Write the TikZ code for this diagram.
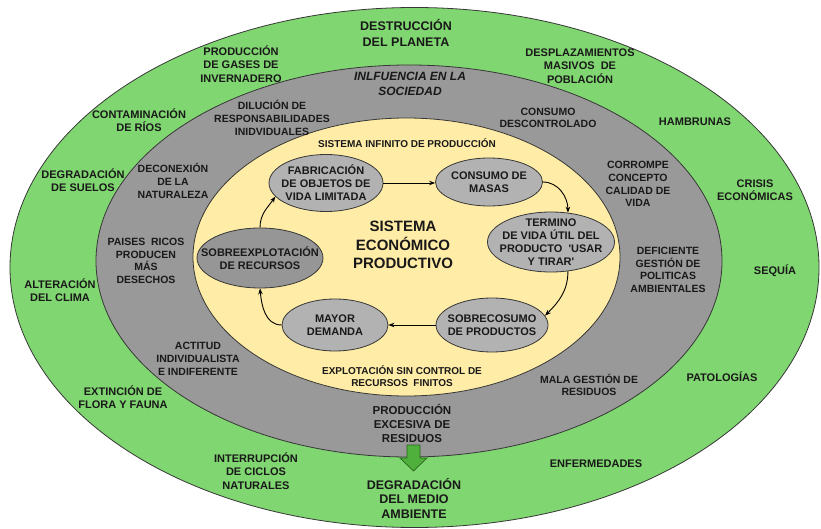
\documentclass[tikz,border=0pt]{standalone}
\usepackage{fontspec}
\newfontfamily\lsans{Liberation Sans}
\usetikzlibrary{shapes.geometric,arrows.meta}
\definecolor{ringgreen}{RGB}{128,214,112}
\definecolor{ringgray}{RGB}{153,153,153}
\definecolor{ringyellow}{RGB}{255,236,166}
\definecolor{boxgray}{RGB}{178,178,178}
\definecolor{boxdark}{RGB}{150,150,150}
\definecolor{edgec}{RGB}{55,55,55}
\definecolor{textc}{RGB}{25,25,25}
\definecolor{arrowgreen}{RGB}{80,176,60}
\definecolor{arrowedge}{RGB}{40,100,30}
\tikzset{
  ring/.style={draw=edgec,line width=0.8pt},
  txtg/.style={font=\lsans\bfseries\fontsize{11}{13.4}\selectfont,text=textc,align=center,inner sep=0pt},
  txtbig/.style={font=\lsans\bfseries\fontsize{12.5}{15.5}\selectfont,text=textc,align=center,inner sep=0pt},
  txtr/.style={font=\lsans\bfseries\fontsize{10.5}{12.7}\selectfont,text=textc,align=center,inner sep=0pt},
  txtital/.style={font=\lsans\bfseries\itshape\fontsize{12}{15}\selectfont,text=textc,align=center,inner sep=0pt},
  txty/.style={font=\lsans\bfseries\fontsize{10}{12}\selectfont,text=textc,align=center,inner sep=0pt},
  txtcore/.style={font=\lsans\bfseries\fontsize{15}{18.5}\selectfont,text=textc,align=center,inner sep=0pt},
  stage/.style={ellipse,draw=edgec,line width=0.8pt,fill=boxgray,inner xsep=-20pt,inner ysep=-12pt,
     font=\lsans\bfseries\fontsize{11}{13}\selectfont,text=textc,align=center},
  flow/.style={-{Stealth[length=6pt,width=4.5pt]},line width=0.9pt,draw=black}
}
\begin{document}
\begin{tikzpicture}[x=1pt,y=1pt]
\useasboundingbox (0,0) rectangle (821,-529);
% rings
\draw[ring,fill=ringgreen] (414.5,-267.5) ellipse [x radius=404.5, y radius=260];
\draw[ring,fill=ringgray] (409,-261) ellipse [x radius=313, y radius=196];
\draw[ring,fill=ringyellow] (406.5,-257) ellipse [x radius=213.5, y radius=139];

% cycle stages
\node[stage,minimum width=114pt,minimum height=57pt] (fab) at (326,-183) {FABRICACIÓN\\DE OBJETOS DE\\VIDA LIMITADA};
\node[stage,minimum width=107pt,minimum height=48pt] (cons) at (489,-182) {CONSUMO DE\\MASAS};
\node[stage,minimum width=127pt,minimum height=60pt] (term) at (551,-242) {TERMINO\\DE VIDA ÚTIL DEL\\PRODUCTO\ \ 'USAR\\Y TIRAR'};
\node[stage,minimum width=112pt,minimum height=54pt] (sobrec) at (492,-325) {SOBRECOSUMO\\DE PRODUCTOS};
\node[stage,minimum width=106pt,minimum height=52pt] (mayor) at (335,-325) {MAYOR\\DEMANDA};
\node[stage,fill=boxdark,minimum width=126pt,minimum height=60pt] (sobreexp) at (260,-258) {SOBREEXPLOTACIÓN\\DE RECURSOS};

% cycle arrows
\draw[flow] (fab.east) -- (fab.east -| cons.west);
\draw[flow] (cons.east) to[out=0,in=90] (term.60);
\draw[flow] (term.-60) to[out=-90,in=45] (sobrec.10);
\draw[flow] (sobrec.west) -- (mayor.east);
\draw[flow] (mayor.west) to[out=180,in=-85] (sobreexp.south);
\draw[flow] (sobreexp.north) to[out=90,in=235] (fab.195);

% green down arrow
\draw[draw=arrowedge,fill=arrowgreen,line width=0.7pt,line join=miter]
  (407,-445) -- (420,-445) -- (420,-458) -- (427,-458) -- (413.5,-471) -- (400,-458) -- (407,-458) -- cycle;

% core texts
\node[txty] (infinito) at (407,-143) {SISTEMA INFINITO DE PRODUCCIÓN};
\node[txtcore] (core) at (403,-245) {SISTEMA\\ECONÓMICO\\PRODUCTIVO};
\node[txty] (explot) at (402,-376) {EXPLOTACIÓN SIN CONTROL DE\\RECURSOS\ \ FINITOS};

% gray ring texts
\node[txtital] (influ) at (410,-84) {INLFUENCIA EN LA\\SOCIEDAD};
\node[txtr] (dilu) at (272,-118) {DILUCIÓN DE\\RESPONSABILIDADES\\INIDVIDUALES};
\node[txtr] (descon) at (548,-118) {CONSUMO\\DESCONTROLADO};
\node[txtr] (decon) at (173,-181) {DECONEXIÓN\\DE LA\\NATURALEZA};
\node[txtr] (corr) at (638,-184) {CORROMPE\\CONCEPTO\\CALIDAD DE\\VIDA};
\node[txtr] (paises) at (146,-261) {PAISES\ \ RICOS\\PRODUCEN\\MÁS\\DESECHOS};
\node[txtr] (defic) at (668,-270) {DEFICIENTE\\GESTIÓN DE\\POLITICAS\\AMBIENTALES};
\node[txtr] (actit) at (198,-359) {ACTITUD\\INDIVIDUALISTA\\E INDIFERENTE};
\node[txtr] (mala) at (589,-385) {MALA GESTIÓN DE\\RESIDUOS};
\node[txtg,font=\lsans\bfseries\fontsize{11.5}{14}\selectfont] (prodres) at (412,-423) {PRODUCCIÓN\\EXCESIVA DE\\RESIDUOS};

% green ring texts
\node[txtbig] (destr) at (406,-33) {DESTRUCCIÓN\\DEL PLANETA};
\node[txtg] (gases) at (241,-64) {PRODUCCIÓN\\DE GASES DE\\INVERNADERO};
\node[txtg] (despl) at (580,-66) {DESPLAZAMIENTOS\\MASIVOS\ \ DE\\POBLACIÓN};
\node[txtg] (conta) at (139,-120) {CONTAMINACIÓN\\DE RÍOS};
\node[txtg] (hamb) at (695,-122) {HAMBRUNAS};
\node[txtg] (suelos) at (83,-180) {DEGRADACIÓN\\DE SUELOS};
\node[txtg] (crisis) at (755,-190) {CRISIS\\ECONÓMICAS};
\node[txtg] (clima) at (60,-290) {ALTERACIÓN\\DEL CLIMA};
\node[txtg] (sequia) at (775,-271) {SEQUÍA};
\node[txtg] (flora) at (123,-397) {EXTINCIÓN DE\\FLORA Y FAUNA};
\node[txtg] (pato) at (722,-377) {PATOLOGÍAS};
\node[txtg] (ciclos) at (256,-471) {INTERRUPCIÓN\\DE CICLOS\\NATURALES};
\node[txtg] (enferm) at (596,-464) {ENFERMEDADES};
\node[txtbig,font=\lsans\bfseries\fontsize{12.5}{14.5}\selectfont] (degr) at (414,-498) {DEGRADACIÓN\\DEL MEDIO\\AMBIENTE};
\end{tikzpicture}
\end{document}
